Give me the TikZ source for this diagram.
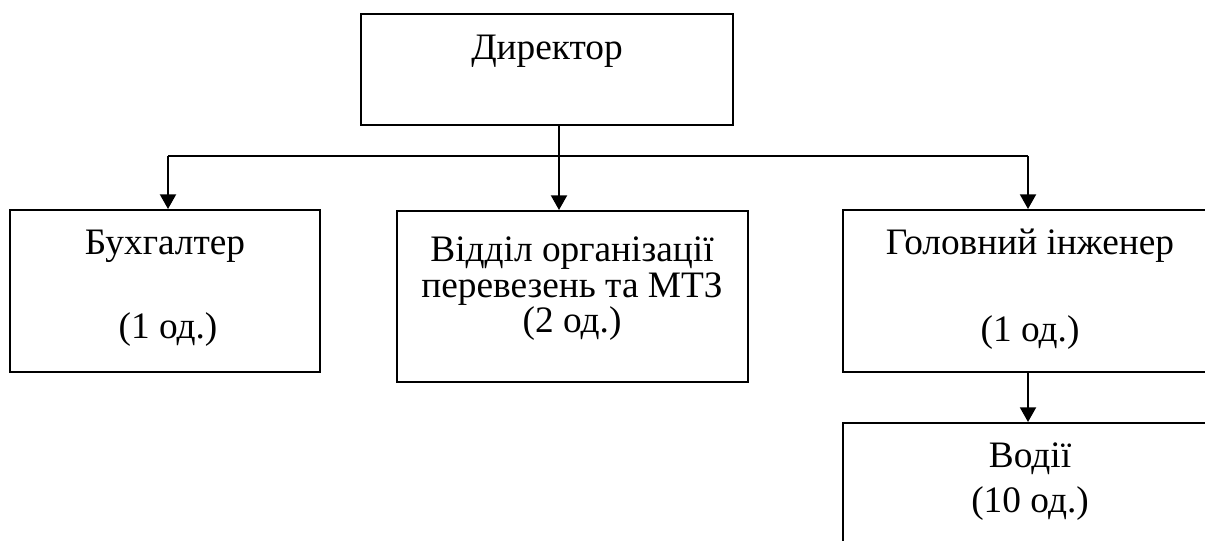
\documentclass[tikz,border=0pt]{standalone}
\usepackage{fontspec}
\setmainfont{Liberation Serif}
\usetikzlibrary{arrows.meta,calc}

\tikzset{
  box/.style={draw, line width=1.5pt, rectangle, inner sep=0pt},
  lbl/.style={anchor=base, inner sep=0pt, font=\fontsize{28}{33}\selectfont},
  link/.style={line width=1.5pt},
  arr/.style={link, -{Triangle[width=12pt,length=11pt]}}
}

\begin{document}
\begin{tikzpicture}[x=0.75pt, y=-0.75pt]
  \useasboundingbox (0,0) rectangle (1205,541);
  \clip (0,0) rectangle (1205,541);

  % boxes (corner to corner, in pixel units)
  \node[box, minimum width=372*0.75pt, minimum height=111*0.75pt] (dir) at (547,69.5) {};
  \node[box, minimum width=310*0.75pt, minimum height=162*0.75pt] (buh) at (165,291) {};
  \node[box, minimum width=351*0.75pt, minimum height=171*0.75pt] (mid) at (572.5,296.5) {};
  \node[box, minimum width=372*0.75pt, minimum height=162*0.75pt] (eng) at (1029,291) {};
  \node[box, minimum width=372*0.75pt, minimum height=177*0.75pt] (drv) at (1029,511.5) {};

  % texts
  \node[lbl] (tdir) at (547,60) {Директор};
  \node[lbl] (tbuh1) at (165,255) {Бухгалтер};
  \node[lbl] (tbuh2) at (168,339) {(1 од.)};
  \node[lbl] (tmid1) at (572,262) {Відділ організації};
  \node[lbl] (tmid2) at (572,297) {перевезень та МТЗ};
  \node[lbl] (tmid3) at (572,332) {(2 од.)};
  \node[lbl] (teng1) at (1030,255) {Головний інженер};
  \node[lbl] (teng2) at (1030,341) {(1 од.)};
  \node[lbl] (tdrv1) at (1030,467) {Водії};
  \node[lbl] (tdrv2) at (1030,512) {(10 од.)};

  % connector points
  \coordinate (dirOut) at (559,125);
  \coordinate (busL) at (168,156);
  \coordinate (busM) at (559,156);
  \coordinate (busR) at (1028,156);

  \draw[link] (busL) -- (busR);
  \draw[arr] (dirOut) -- (busM) -- (mid.north -| busM);
  \draw[arr] (busL) -- (buh.north -| busL);
  \draw[arr] (busR) -- (eng.north -| busR);
  \draw[arr] (eng.south -| busR) -- (drv.north -| busR);
\end{tikzpicture}
\end{document}
